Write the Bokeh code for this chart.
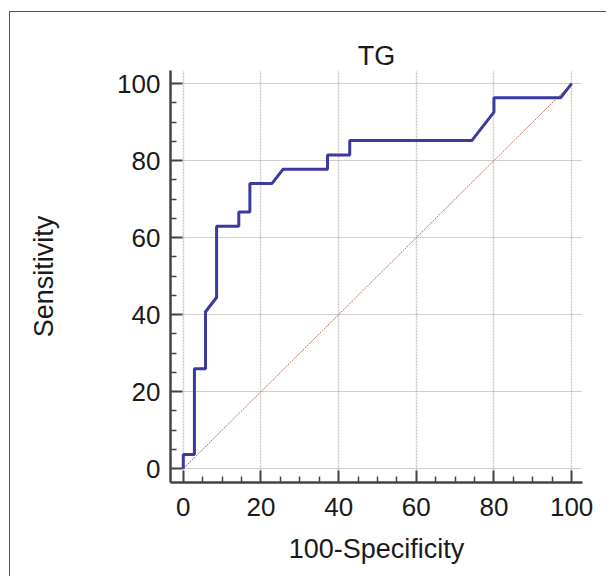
from bokeh.plotting import figure
from bokeh.models import FixedTicker, Range1d
from bokeh.embed import file_html
from bokeh.resources import INLINE

# ROC curve (100-Specificity vs Sensitivity)
fpr = [0, 0, 2.86, 2.86, 5.71, 5.71, 8.57, 8.57, 14.29, 14.29, 17.14, 17.14,
       22.86, 25.71, 37.14, 37.14, 42.86, 42.86, 74.29, 80.0, 80.0, 97.14, 100]
tpr = [0, 3.70, 3.70, 25.93, 25.93, 40.74, 44.44, 62.96, 62.96, 66.67, 66.67, 74.07,
       74.07, 77.78, 77.78, 81.48, 81.48, 85.19, 85.19, 92.59, 96.30, 96.30, 100]
ref_x = [0, 100]
ref_y = [0, 100]
major_ticks = [0, 20, 40, 60, 80, 100]
minor_ticks = [5, 10, 15, 25, 30, 35, 45, 50, 55, 65, 70, 75, 85, 90, 95]

FONT = "Liberation Sans"

p = figure(frame_width=412, frame_height=412,
           min_border_left=160, min_border_right=24,
           min_border_top=58, min_border_bottom=94,
           x_range=Range1d(-3.3, 102.8), y_range=Range1d(-3.6, 103.4),
           output_backend="svg", toolbar_location=None, title="TG")

p.styles = {"border-left": "1px solid #555555", "border-top": "1px solid #555555",
            "margin-left": "9px", "margin-top": "11px"}

p.outline_line_color = None
p.background_fill_color = "white"
p.border_fill_color = "white"

p.title.align = "center"
p.title.text_font = FONT
p.title.text_font_size = "27px"
p.title.text_font_style = "normal"
p.title.text_color = "#1a1a1a"
p.title.standoff = 0

for ax in (p.xaxis[0], p.yaxis[0]):
    ax.ticker = FixedTicker(ticks=major_ticks, minor_ticks=minor_ticks)
    ax.axis_line_color = "#444444"
    ax.axis_line_width = 2.5
    ax.major_tick_line_color = "#444444"
    ax.major_tick_line_width = 2
    ax.major_tick_in = 12
    ax.major_tick_out = 0
    ax.minor_tick_line_color = "#444444"
    ax.minor_tick_line_width = 1.5
    ax.minor_tick_in = 6
    ax.minor_tick_out = 0
    ax.major_label_text_font = FONT
    ax.major_label_text_font_size = "26px"
    ax.major_label_text_color = "#1a1a1a"
    ax.axis_label_text_font = FONT
    ax.axis_label_text_font_size = "27px"
    ax.axis_label_text_font_style = "normal"
    ax.axis_label_text_color = "#1a1a1a"

p.xaxis.axis_label = "100-Specificity"
p.yaxis.axis_label = "Sensitivity"
p.xaxis.major_label_standoff = 15
p.yaxis.major_label_standoff = 10
p.xaxis.axis_label_standoff = 15
p.yaxis.axis_label_standoff = 55

p.xgrid.ticker = FixedTicker(ticks=major_ticks)
p.ygrid.ticker = FixedTicker(ticks=major_ticks)
p.xgrid.grid_line_color = "#c8c8c8"
p.xgrid.grid_line_width = 1.5
p.xgrid.grid_line_dash = "2 1"
p.ygrid.grid_line_color = "#a0a0a0"
p.ygrid.grid_line_width = 1
p.ygrid.grid_line_dash = "1 1"

p.line(ref_x, ref_y, line_color="#c06a60", line_width=1, line_dash="2 1")
p.line(fpr, tpr, line_color="#3a3aa0", line_width=3)

open("out.html", "w").write(file_html(p, INLINE))
